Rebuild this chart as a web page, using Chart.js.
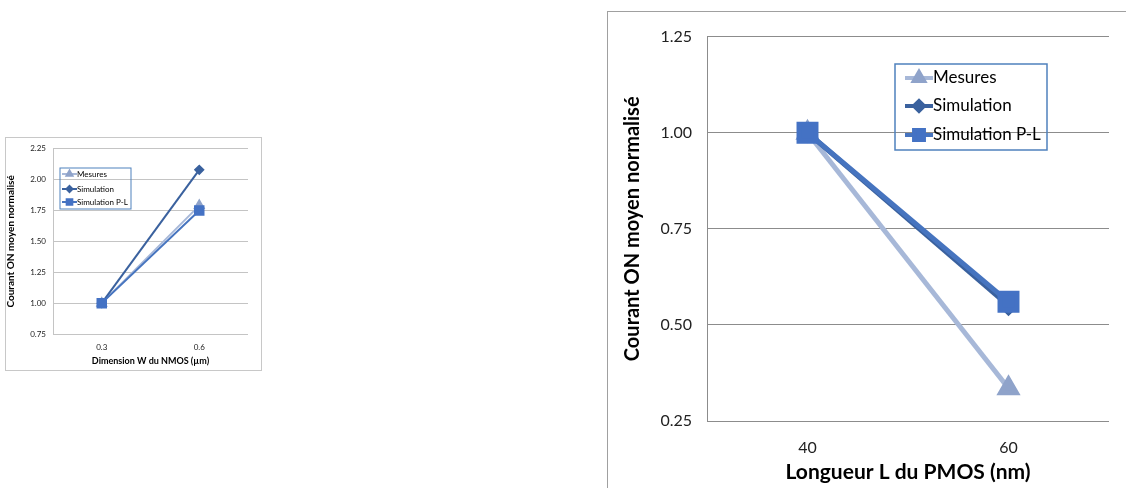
<!DOCTYPE html>
<html>
<head>
<meta charset="utf-8">
<script src="https://cdn.jsdelivr.net/npm/chart.js@4.4.1/dist/chart.umd.min.js"></script>
<style>
  body { margin: 0; background: #fff; width: 1126px; height: 488px; overflow: hidden; position: relative; }
  .frame { position: absolute; border: 1px solid #a0a0a0; box-sizing: border-box; }
  #frameW { left: 5px; top: 137px; width: 257px; height: 234px; border-color: #c8c8c8; }
  #frameL { left: 607px; top: 11px; width: 540px; height: 500px; }
  canvas { position: absolute; }
  #chartW { left: 5px; top: 137px; }
  #chartL { left: 608px; top: 12px; }
</style>
</head>
<body>
<div class="frame" id="frameW"></div>
<div class="frame" id="frameL"></div>
<canvas id="chartW" width="256" height="233"></canvas>
<canvas id="chartL" width="518" height="476"></canvas>
<script>
const seriesNames = ['Mesures', 'Simulation', 'Simulation P-L'];

// petit graphe : dimension W du NMOS
const nmosCategories = ['0.3', '0.6'];
const nmosMesures = [1.0, 1.79];
const nmosSimulation = [1.0, 2.08];
const nmosSimulationPL = [1.0, 1.75];
const nmosTicks = [0.75, 1.0, 1.25, 1.5, 1.75, 2.0, 2.25];

// grand graphe : longueur L du PMOS
const pmosCategories = ['40', '60'];
const pmosMesures = [1.0, 0.335];
const pmosSimulation = [1.0, 0.55];
const pmosSimulationPL = [1.0, 0.56];
const pmosTicks = [0.25, 0.5, 0.75, 1.0, 1.25];

const colors = {
    mesures: '#a7b8d8',
    mesuresPt: '#8fa3ca',
    simulation: '#3a619e',
    simulationPL: '#4674bf',
    simulationPLPt: '#4472c4'
};

// légende encadrée dans la zone du graphe
const boxLegend = {
    id: 'boxLegend',
    afterDraw(chart, args, o) {
        const ctx = chart.ctx;
        ctx.save();
        ctx.strokeStyle = '#4f81bd';
        ctx.lineWidth = o.border;
        ctx.strokeRect(o.x, o.y, o.w, o.h);
        ctx.font = o.font;
        ctx.textBaseline = 'middle';
        chart.data.datasets.forEach((ds, i) => {
            const y = o.rows[i];
            ctx.strokeStyle = ds.borderColor;
            ctx.lineWidth = o.lineW;
            ctx.beginPath();
            ctx.moveTo(o.x0, y);
            ctx.lineTo(o.x1, y);
            ctx.stroke();
            ctx.fillStyle = ds.pointBackgroundColor;
            ctx.strokeStyle = ds.pointBackgroundColor;
            Chart.helpers.drawPoint(ctx, {pointStyle: ds.pointStyle, radius: o.radius[i], rotation: 0, borderWidth: 1}, (o.x0 + o.x1) / 2, y);
            ctx.fillStyle = '#000';
            ctx.fillText(ds.label, o.x1, y);
        });
        ctx.restore();
    }
};

function makeChart(id, s) {
    return new Chart(document.getElementById(id), {
        type: 'line',
        data: {
            labels: s.labels,
            datasets: [{
                label: seriesNames[0],
                data: s.values[0],
                borderColor: colors.mesures,
                pointBackgroundColor: colors.mesuresPt,
                pointBorderColor: colors.mesuresPt,
                pointStyle: 'triangle',
                pointRadius: s.radius[0],
                borderWidth: s.lineW,
                order: 3
            }, {
                label: seriesNames[1],
                data: s.values[1],
                borderColor: colors.simulation,
                pointBackgroundColor: colors.simulation,
                pointBorderColor: colors.simulation,
                pointStyle: 'rectRot',
                pointRadius: s.radius[1],
                borderWidth: s.lineW,
                order: 2
            }, {
                label: seriesNames[2],
                data: s.values[2],
                borderColor: colors.simulationPL,
                pointBackgroundColor: colors.simulationPLPt,
                pointBorderColor: colors.simulationPLPt,
                pointStyle: 'rect',
                pointRadius: s.radius[2],
                borderWidth: s.lineW,
                order: 1
            }]
        },
        options: {
            responsive: false,
            animation: false,
            layout: { padding: s.padding },
            plugins: {
                legend: { display: false },
                tooltip: { enabled: false },
                boxLegend: s.legend
            },
            scales: {
                x: {
                    offset: true,
                    grid: { display: false, drawTicks: false },
                    border: { display: false },
                    ticks: { color: '#222', font: { family: 'Lato', size: s.tickSize }, padding: s.xTickPad },
                    title: {
                        display: true, text: s.xTitle, color: '#000',
                        font: { family: 'Lato', size: s.xTitleSize, weight: 'bold' },
                        padding: { top: 0, bottom: s.xTitlePad }
                    },
                    afterFit: (scale) => { scale.height = s.xHeight; }
                },
                y: {
                    min: s.ticks[0],
                    max: s.ticks[s.ticks.length - 1],
                    afterBuildTicks: (scale) => { scale.ticks = s.ticks.map(v => ({value: v})); },
                    grid: { color: s.gridColor, lineWidth: 1, drawTicks: false },
                    border: { display: true, color: s.gridColor },
                    ticks: {
                        color: '#222', font: { family: 'Lato', size: s.tickSize }, padding: s.yTickPad,
                        callback: (v) => v.toFixed(2)
                    },
                    title: {
                        display: true, text: 'Courant ON moyen normalisé', color: '#000',
                        font: { family: 'Lato', size: s.yTitleSize, weight: 'bold' },
                        padding: { top: s.yTitlePad, bottom: 0 }
                    },
                    afterFit: (scale) => { scale.width = s.yWidth; }
                }
            }
        },
        plugins: [boxLegend]
    });
}

makeChart('chartW', {
    labels: nmosCategories,
    values: [nmosMesures, nmosSimulation, nmosSimulationPL],
    ticks: nmosTicks,
    xTitle: 'Dimension W du NMOS (µm)',
    radius: [5, 4, 6],
    lineW: 2,
    padding: { left: 0, top: 10, right: 13, bottom: 0 },
    yWidth: 48, xHeight: 36,
    tickSize: 8, xTitleSize: 9, yTitleSize: 10,
    xTickPad: 9, yTickPad: 7,
    xTitlePad: 4, yTitlePad: 0,
    gridColor: '#c4c4c4',
    legend: {
        x: 55, y: 31, w: 71, h: 41, border: 1,
        rows: [37, 52, 65], x0: 57, x1: 72, lineW: 2, radius: [3.5, 3, 4],
        font: '8px Lato'
    }
});

makeChart('chartL', {
    labels: pmosCategories,
    values: [pmosMesures, pmosSimulation, pmosSimulationPL],
    ticks: pmosTicks,
    xTitle: 'Longueur L du PMOS (nm)',
    radius: [9, 7, 12],
    lineW: 5,
    padding: { left: 0, top: 21, right: 16, bottom: 0 },
    yWidth: 99, xHeight: 67,
    tickSize: 16, xTitleSize: 21, yTitleSize: 20,
    xTickPad: 17, yTickPad: 15,
    xTitlePad: 3, yTitlePad: 13,
    gridColor: '#8c8c8c',
    legend: {
        x: 287, y: 52, w: 152, h: 86, border: 1.5,
        rows: [66, 94, 123], x0: 297, x1: 325, lineW: 4, radius: [6, 5, 7],
        font: '17px Lato'
    }
});
</script>
</body>
</html>
